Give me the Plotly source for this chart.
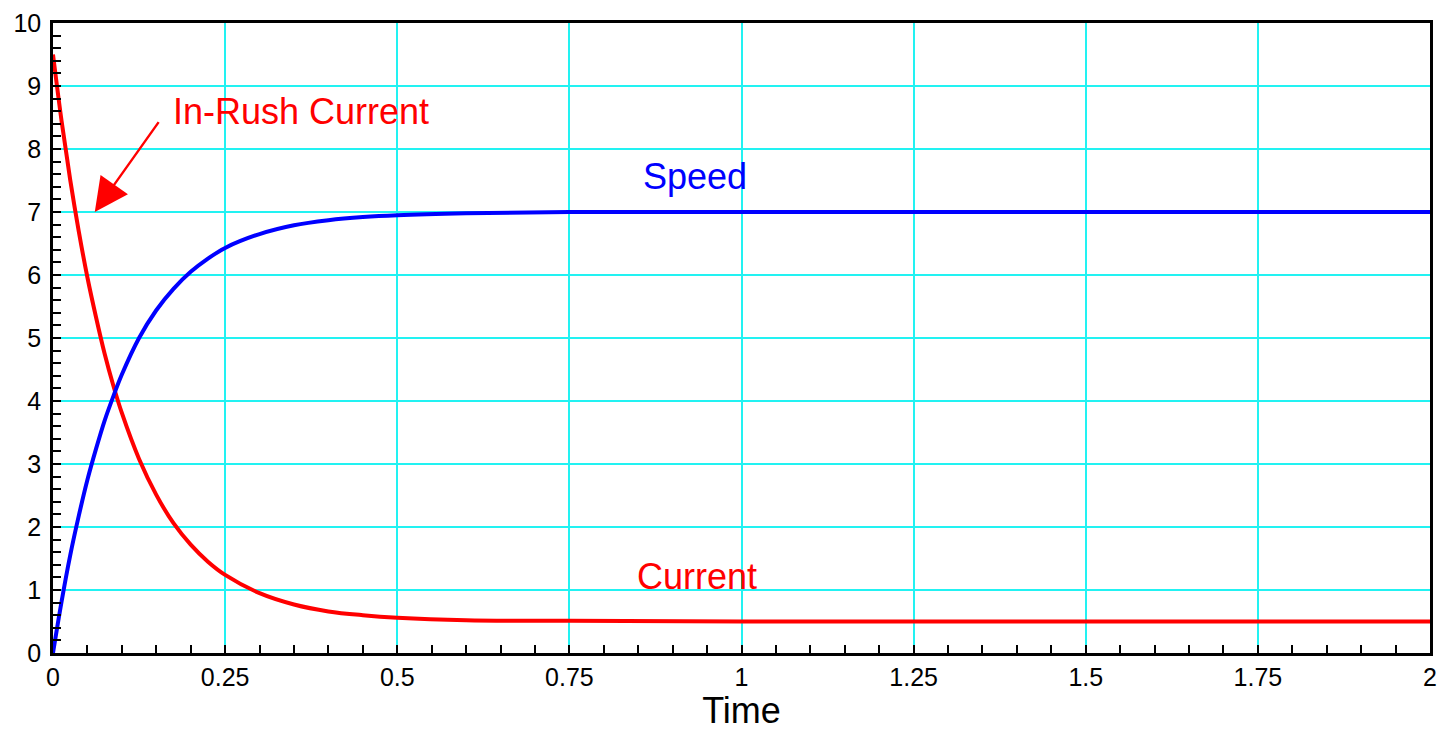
import plotly.graph_objects as go

time = [0, 0.0125, 0.025, 0.0375, 0.05, 0.0625, 0.075, 0.0875, 0.1, 0.125, 0.15, 0.175, 0.2,
        0.225, 0.25, 0.3, 0.35, 0.4, 0.45, 0.5, 0.6, 0.75, 1.0, 1.25, 1.5, 1.75, 2.0]
speed = [0, 0.82, 1.55, 2.18, 2.75, 3.24, 3.69, 4.07, 4.42, 5.0, 5.44, 5.78, 6.05,
         6.26, 6.43, 6.65, 6.79, 6.87, 6.92, 6.95, 6.98, 7.0, 7.0, 7.0, 7.0, 7.0, 7.0]
current = [9.5, 8.44, 7.51, 6.69, 5.96, 5.33, 4.75, 4.25, 3.81, 3.08, 2.51, 2.06, 1.72,
           1.45, 1.24, 0.95, 0.77, 0.66, 0.60, 0.56, 0.52, 0.51, 0.5, 0.5, 0.5, 0.5, 0.5]

x_ticks = [0, 0.25, 0.5, 0.75, 1, 1.25, 1.5, 1.75, 2]
x_ticktext = ["0", "0.25", "0.5", "0.75", "1", "1.25", "1.5", "1.75", "2"]
y_ticks = list(range(0, 11))

FONT = "Liberation Sans, Arial, Helvetica, sans-serif"
GRID = "#22f2f2"

fig = go.Figure()
fig.add_trace(go.Scatter(x=time, y=current, mode="lines", line=dict(color="#ff0000", width=4, shape="spline"),
                         name="Current", showlegend=False))
fig.add_trace(go.Scatter(x=time, y=speed, mode="lines", line=dict(color="#0000ff", width=4, shape="spline"),
                         name="Speed", showlegend=False))

fig.add_annotation(x=0.0607, y=7.0, ax=0.155, ay=8.45, axref="x", ayref="y", xref="x", yref="y",
                   text="", showarrow=True, arrowhead=2, arrowsize=2.8, arrowwidth=2.4, arrowcolor="#ff0000")
fig.add_annotation(x=0.172, y=8.6, xref="x", yref="y", text="In-Rush Current", showarrow=False,
                   xanchor="left", yanchor="middle", font=dict(color="#ff0000", size=36, family=FONT))
fig.add_annotation(x=0.932, y=7.57, xref="x", yref="y", text="Speed", showarrow=False,
                   font=dict(color="#0000ff", size=36, family=FONT))
fig.add_annotation(x=0.935, y=1.22, xref="x", yref="y", text="Current", showarrow=False,
                   font=dict(color="#ff0000", size=36, family=FONT))

fig.update_layout(
    width=1446, height=731,
    margin=dict(l=53, r=9, t=19, b=75),
    plot_bgcolor="white", paper_bgcolor="white",
    font=dict(family=FONT, color="black", size=25),
)
fig.update_xaxes(
    range=[0, 2], tickvals=x_ticks, ticktext=x_ticktext,
    showgrid=True, gridcolor=GRID, gridwidth=1.5,
    showline=True, linecolor="black", linewidth=2.5, mirror=True,
    ticks="inside", ticklen=8, tickcolor="black", tickwidth=1.5,
    minor=dict(dtick=0.05, ticks="inside", ticklen=8, tickcolor="black", tickwidth=1.5, showgrid=False),
    zeroline=False, tickfont=dict(size=25), ticklabeloverflow="allow",
    title=dict(text="Time", font=dict(size=36), standoff=6),
)
fig.update_yaxes(
    range=[0, 10], tickvals=y_ticks,
    showgrid=True, gridcolor=GRID, gridwidth=1.5,
    showline=True, linecolor="black", linewidth=2.5, mirror=True,
    ticks="inside", ticklen=8, tickcolor="black", tickwidth=1.5,
    minor=dict(dtick=0.2, ticks="inside", ticklen=8, tickcolor="black", tickwidth=1.5, showgrid=False),
    zeroline=False, tickfont=dict(size=25), ticklabelstandoff=4, ticklabeloverflow="allow",
)

fig.write_html("out.html", config={"displayModeBar": False},
               post_script="document.body.style.margin='0';")
